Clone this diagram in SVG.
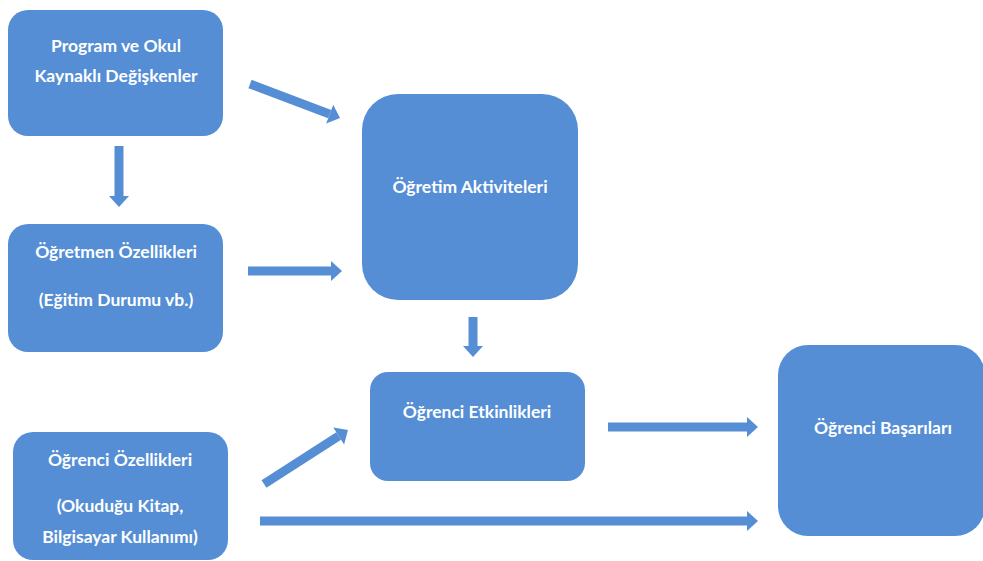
<svg xmlns="http://www.w3.org/2000/svg" width="983" height="561" viewBox="0 0 983 561">
  <defs>
    <style>
      .node { fill: #558ed5; }
      .label { fill: #ffffff; font-family: Lato, "Open Sans", "Liberation Sans", sans-serif; font-weight: bold; font-size: 17.5px; text-anchor: middle; }
      .conn { stroke: #558ed5; stroke-width: 9; fill: none; marker-end: url(#head); }
    </style>
    <!-- block arrowhead: 11 long, 20 wide, in user units for a 9px stroke -->
    <marker id="head" viewBox="0 0 11 20" refX="0" refY="10" markerWidth="1.2222" markerHeight="2.2222" markerUnits="strokeWidth" orient="auto" overflow="visible">
      <path d="M0,0 L11,10 L0,20 Z" fill="#558ed5"/>
    </marker>
  </defs>

  <!-- connectors -->
  <g id="connectors">
    <line class="conn" x1="119" y1="146" x2="119" y2="196"/>
    <line class="conn" x1="250" y1="84" x2="329.7" y2="114.1"/>
    <line class="conn" x1="248" y1="271" x2="331" y2="271"/>
    <line class="conn" x1="473" y1="317" x2="473" y2="346"/>
    <line class="conn" x1="264" y1="484" x2="338.7" y2="436"/>
    <line class="conn" x1="608" y1="427" x2="747" y2="427"/>
    <line class="conn" x1="260" y1="521" x2="747" y2="521"/>
  </g>

  <!-- nodes -->
  <g id="program-okul">
    <rect class="node" x="8" y="10" width="215" height="126" rx="20"/>
    <text class="label" x="116" y="52">Program ve Okul</text>
    <text class="label" x="116" y="82">Kaynaklı Değişkenler</text>
  </g>
  <g id="ogretmen-ozellikleri">
    <rect class="node" x="8" y="224" width="215" height="128" rx="20"/>
    <text class="label" x="116" y="258">Öğretmen Özellikleri</text>
    <text class="label" x="116" y="306">(Eğitim Durumu vb.)</text>
  </g>
  <g id="ogretim-aktiviteleri">
    <rect class="node" x="362" y="94" width="216" height="206" rx="36"/>
    <text class="label" x="470" y="193">Öğretim Aktiviteleri</text>
  </g>
  <g id="ogrenci-etkinlikleri">
    <rect class="node" x="370" y="372" width="215" height="109" rx="18"/>
    <text class="label" x="477" y="418">Öğrenci Etkinlikleri</text>
  </g>
  <g id="ogrenci-ozellikleri">
    <rect class="node" x="13" y="432" width="215" height="128" rx="20"/>
    <text class="label" x="120" y="466">Öğrenci Özellikleri</text>
    <text class="label" x="120" y="512">(Okuduğu Kitap,</text>
    <text class="label" x="120" y="543">Bilgisayar Kullanımı)</text>
  </g>
  <g id="ogrenci-basarilari">
    <rect class="node" x="778" y="345" width="207" height="191" rx="30"/>
    <text class="label" x="883" y="434">Öğrenci Başarıları</text>
  </g>
</svg>
